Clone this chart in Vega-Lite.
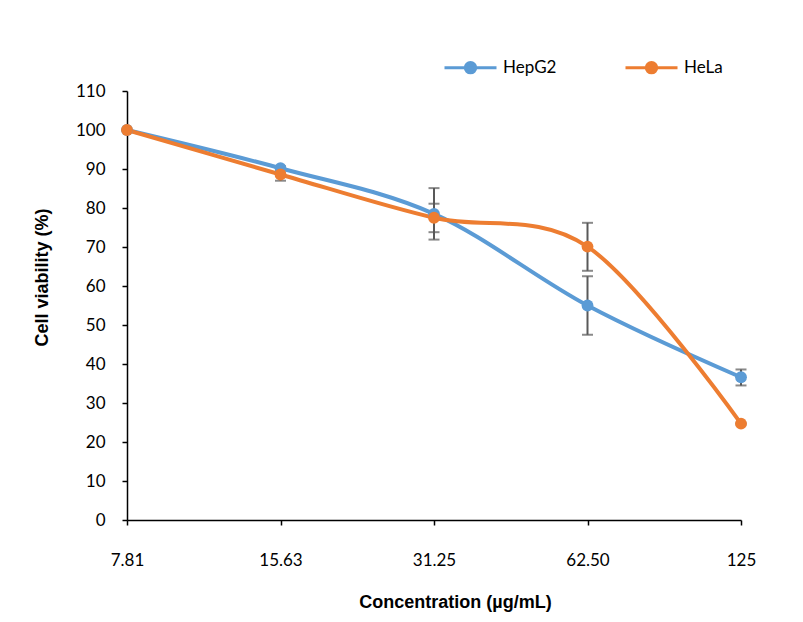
{
  "$schema": "https://vega.github.io/schema/vega-lite/v6.json",
  "width": 614,
  "height": 429,
  "autosize": {"type": "none"},
  "padding": {"left": 127, "top": 91, "right": 62, "bottom": 102},
  "background": "white",
  "config": {
    "view": {"stroke": null},
    "font": "Lato",
    "axisY": {
      "labelFontSize": 17,
      "labelColor": "#000000",
      "labelPadding": 17,
      "domainColor": "#000000",
      "domainWidth": 1.5,
      "tickColor": "#000000",
      "tickWidth": 1.5,
      "tickSize": 5,
      "grid": false,
      "labelOverlap": false,
      "titleFont": "Liberation Sans",
      "titleFontWeight": "bold",
      "titleFontSize": 18,
      "titleColor": "#000000"
    },
    "legend": {
      "orient": "none",
      "direction": "horizontal",
      "legendX": 316,
      "legendY": -51,
      "symbolType": "M-1,0L1,0M0.2,0A0.2,0.2,0,1,1,-0.2,0A0.2,0.2,0,1,1,0.2,0Z",
      "symbolSize": 2704,
      "symbolStrokeWidth": 3,
      "labelFontSize": 17,
      "labelColor": "#000000",
      "labelOffset": 5,
      "columnPadding": 62
    }
  },
  "data": {
    "values": [
      {"conc": "7.81", "cell": "HepG2", "v": 100, "lo": 100, "hi": 100},
      {"conc": "15.63", "cell": "HepG2", "v": 90.2, "lo": 89.7, "hi": 90.7},
      {"conc": "31.25", "cell": "HepG2", "v": 78.5, "lo": 71.9, "hi": 85.1},
      {"conc": "62.50", "cell": "HepG2", "v": 55.0, "lo": 47.5, "hi": 62.5},
      {"conc": "125", "cell": "HepG2", "v": 36.6, "lo": 34.5, "hi": 38.6},
      {"conc": "7.81", "cell": "HeLa", "v": 100, "lo": 100, "hi": 100},
      {"conc": "15.63", "cell": "HeLa", "v": 88.6, "lo": 87.0, "hi": 90.2},
      {"conc": "31.25", "cell": "HeLa", "v": 77.5, "lo": 73.8, "hi": 81.1},
      {"conc": "62.50", "cell": "HeLa", "v": 70.1, "lo": 63.9, "hi": 76.2},
      {"conc": "125", "cell": "HeLa", "v": 24.7, "lo": 24.5, "hi": 24.9}
    ]
  },
  "encoding": {
    "x": {
      "field": "conc",
      "type": "ordinal",
      "sort": ["7.81", "15.63", "31.25", "62.50", "125"],
      "scale": {"type": "point", "padding": 0},
      "axis": {
        "title": "Concentration (µg/mL)",
        "titleFont": "Liberation Sans",
        "titleFontWeight": "bold",
        "titleFontSize": 18,
        "titleColor": "#000000",
        "titleX": 328,
        "titleY": 82,
        "titleBaseline": "middle",
        "titleAlign": "center",
        "labelAngle": 0,
        "labelFontSize": 17,
        "labelColor": "#000000",
        "labelPadding": 27,
        "domainColor": "#000000",
        "domainWidth": 1.5,
        "tickColor": "#000000",
        "tickWidth": 1.5,
        "tickSize": 5,
        "grid": false
      }
    }
  },
  "layer": [
    {
      "mark": {"type": "rule", "color": "#595959", "strokeWidth": 2},
      "encoding": {
        "detail": {"field": "cell"},
        "y": {
          "field": "lo",
          "type": "quantitative",
          "scale": {"domain": [0, 110], "nice": false},
          "axis": {
            "title": "Cell viability (%)",
            "titleX": -85,
            "titleY": 186,
            "titleAngle": -90,
            "titleBaseline": "middle",
            "titleAlign": "center",
            "values": [0, 10, 20, 30, 40, 50, 60, 70, 80, 90, 100, 110]
          }
        },
        "y2": {"field": "hi"}
      }
    },
    {
      "mark": {"type": "tick", "color": "#595959", "thickness": 2, "size": 11, "orient": "horizontal"},
      "encoding": {
        "y": {
          "field": "lo",
          "type": "quantitative",
          "scale": {"domain": [0, 110], "nice": false},
          "axis": {
            "title": "Cell viability (%)",
            "titleX": -85,
            "titleY": 186,
            "titleAngle": -90,
            "titleBaseline": "middle",
            "titleAlign": "center",
            "values": [0, 10, 20, 30, 40, 50, 60, 70, 80, 90, 100, 110]
          }
        }
      }
    },
    {
      "mark": {"type": "tick", "color": "#595959", "thickness": 2, "size": 11, "orient": "horizontal"},
      "encoding": {
        "y": {
          "field": "hi",
          "type": "quantitative",
          "scale": {"domain": [0, 110], "nice": false},
          "axis": {
            "title": "Cell viability (%)",
            "titleX": -85,
            "titleY": 186,
            "titleAngle": -90,
            "titleBaseline": "middle",
            "titleAlign": "center",
            "values": [0, 10, 20, 30, 40, 50, 60, 70, 80, 90, 100, 110]
          }
        }
      }
    },
    {
      "mark": {"type": "line", "interpolate": "cardinal", "tension": 0, "strokeWidth": 4},
      "encoding": {
        "y": {
          "field": "v",
          "type": "quantitative",
          "scale": {"domain": [0, 110], "nice": false},
          "axis": {
            "title": "Cell viability (%)",
            "titleX": -85,
            "titleY": 186,
            "titleAngle": -90,
            "titleBaseline": "middle",
            "titleAlign": "center",
            "values": [0, 10, 20, 30, 40, 50, 60, 70, 80, 90, 100, 110]
          }
        },
        "color": {
          "field": "cell",
          "type": "nominal",
          "sort": ["HepG2", "HeLa"],
          "scale": {"domain": ["HepG2", "HeLa"], "range": ["#5B9BD5", "#ED7D31"]},
          "legend": {
            "title": null,
            "encode": {
              "symbols": {
                "update": {
                  "stroke": {"scale": "color", "field": "value"},
                  "fill": {"scale": "color", "field": "value"},
                  "opacity": {"value": 1}
                }
              }
            }
          }
        }
      }
    },
    {
      "mark": {"type": "point", "filled": true, "opacity": 1, "size": 140},
      "encoding": {
        "y": {
          "field": "v",
          "type": "quantitative",
          "scale": {"domain": [0, 110], "nice": false},
          "axis": {
            "title": "Cell viability (%)",
            "titleX": -85,
            "titleY": 186,
            "titleAngle": -90,
            "titleBaseline": "middle",
            "titleAlign": "center",
            "values": [0, 10, 20, 30, 40, 50, 60, 70, 80, 90, 100, 110]
          }
        },
        "color": {
          "field": "cell",
          "type": "nominal",
          "sort": ["HepG2", "HeLa"],
          "scale": {"domain": ["HepG2", "HeLa"], "range": ["#5B9BD5", "#ED7D31"]},
          "legend": {
            "title": null,
            "encode": {
              "symbols": {
                "update": {
                  "stroke": {"scale": "color", "field": "value"},
                  "fill": {"scale": "color", "field": "value"},
                  "opacity": {"value": 1}
                }
              }
            }
          }
        }
      }
    }
  ]
}
